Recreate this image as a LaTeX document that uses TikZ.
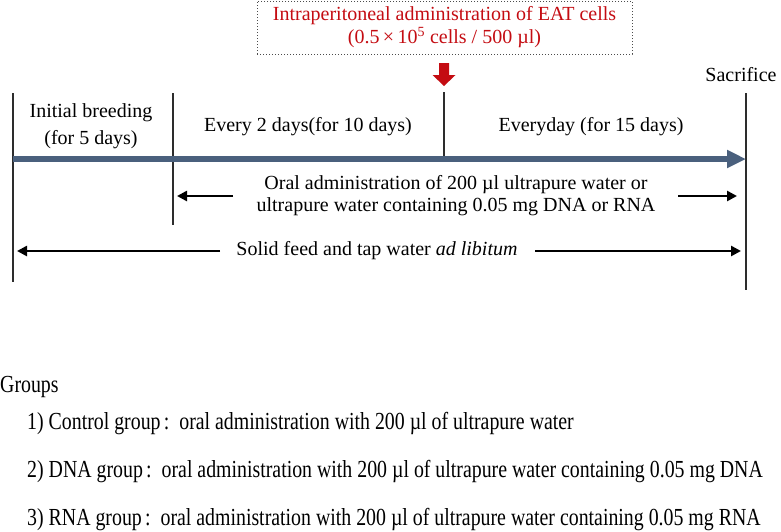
\documentclass[tikz,border=0pt]{standalone}
\usepackage{fontspec}
\setmainfont{Liberation Serif}
\usepackage{graphicx}
\usetikzlibrary{arrows.meta}
\definecolor{barblue}{RGB}{74,96,125}
\definecolor{eatred}{RGB}{196,12,18}
\definecolor{tickgray}{RGB}{45,45,45}
\tikzset{
  lbl/.style={font=\fontsize{20}{23}\selectfont, inner sep=0pt, align=center},
  grp/.style={font=\fontsize{24.5}{28}\selectfont, inner sep=0pt, anchor=west},
  tickline/.style={draw=tickgray, line width=1.3pt},
  spanarrow/.style={line width=2.6pt, -{Triangle[length=10pt,width=10pt]}}
}

\begin{document}
\begin{tikzpicture}[x=1pt,y=-1pt]
    \useasboundingbox (0,0) rectangle (781,531);
    \node[lbl, draw=black!70, dotted, line width=1pt, minimum width=375pt, minimum height=53pt, text=eatred] (eat) at (444.5,27.5) {Intraperitoneal administration of EAT cells\\(0.5\,×\,10\textsuperscript{5} cells / 500 µl)};
    \fill[eatred] (439,63) -- (449,63) -- (449,75) -- (455.5,75) -- (444,86) -- (432.5,75) -- (439,75) -- cycle;
    \coordinate (t0top) at (13,93);   \coordinate (t0bot) at (13,282);
    \coordinate (t1top) at (173,93);  \coordinate (t1bot) at (173,225);
    \coordinate (t2top) at (444,92);  \coordinate (t2bot) at (444,159);
    \coordinate (t3top) at (746,93);  \coordinate (t3bot) at (746,290);
    \draw[tickline] (t0top)--(t0bot);
    \draw[tickline] (t1top)--(t1bot);
    \draw[tickline] (t2top)--(t2bot);
    \draw[tickline] (t3top)--(t3bot);
    \draw[barblue, line width=5.5pt, -{Triangle[length=19pt,width=17pt]}] (13,159)--(746,159);
    \node[lbl, font=\fontsize{20}{27}\selectfont] (initial) at (91,126.5) {Initial breeding\\(for 5 days)};
    \node[lbl] (every2) at (308,127) {Every 2 days(for 10 days)};
    \node[lbl] (everyday) at (591,127) {Everyday (for 15 days)};
    \node[lbl] (sacrifice) at (741,75) {Sacrifice};
    \node[lbl, font=\fontsize{20}{22}\selectfont] (oral) at (456,196) {Oral administration of 200 µl ultrapure water or\\ultrapure water containing 0.05 mg DNA or RNA};
    \node[lbl] (feed) at (377,251) {Solid feed and tap water \textit{ad libitum}};
    \draw[spanarrow] (233,196)--(177,196);
    \draw[spanarrow] (678,196)--(737,196);
    \draw[spanarrow] (220,251)--(17,251);
    \draw[spanarrow] (535,251)--(741,251);
    \node[grp] (groups) at (0,387) {\scalebox{0.81}[1]{Groups}};
    \node[grp] (ctrl) at (27,424) {\scalebox{0.81}[1]{1) Control group\,:\enspace oral administration with 200 µl of ultrapure water}};
    \node[grp] (dna) at (27,472) {\scalebox{0.81}[1]{2) DNA group\,:\enspace oral administration with 200 µl of ultrapure water containing 0.05 mg DNA}};
    \node[grp] (rna) at (27,520) {\scalebox{0.81}[1]{3) RNA group\,:\enspace oral administration with 200 µl of ultrapure water containing 0.05 mg RNA}};
\end{tikzpicture}
\end{document}
